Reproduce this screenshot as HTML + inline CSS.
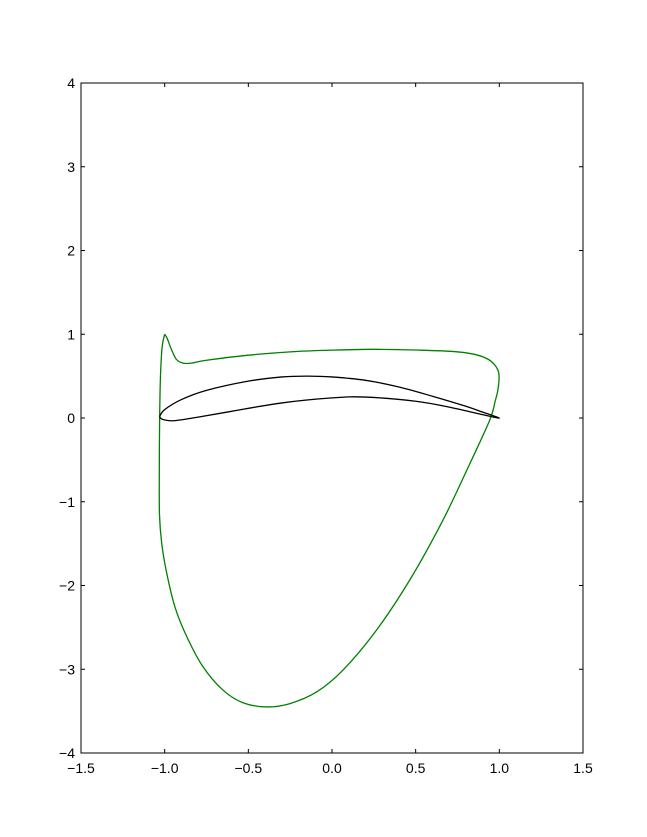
<!DOCTYPE html>
<html><head><meta charset="utf-8"><style>
html,body{margin:0;padding:0;background:#fff;}
svg{display:block;font-family:"Liberation Sans","DejaVu Sans",sans-serif;}
</style></head><body>
<svg id="chart" width="647" height="837" viewBox="0 0 647 837">
<rect x="0" y="0" width="647" height="837" fill="#fff"/>
<g id="marks"></g>
<g id="axes"></g>
</svg>
<script>
const xTicks=[-1.5,-1.0,-0.5,0.0,0.5,1.0,1.5];
const yTicks=[-4,-3,-2,-1,0,1,2,3,4];
const greenX=[-1.0,-0.985,-0.96,-0.93,-0.89,-0.84,-0.75,-0.5,-0.25,0,0.25,0.526,0.72,0.84,0.92,0.97,0.995,0.998,0.99,0.975,0.944,0.825,0.663,0.466,0.267,0.066,-0.091,-0.251,-0.39,-0.532,-0.651,-0.771,-0.868,-0.938,-0.988,-1.018,-1.031,-1.032,-1.03,-1.025,-1.015,-1.0];
const greenY=[1.0,0.95,0.82,0.70,0.655,0.655,0.69,0.75,0.79,0.81,0.82,0.81,0.795,0.765,0.715,0.64,0.55,0.45,0.32,0.2,-0.02,-0.54,-1.22,-1.93,-2.53,-3.01,-3.27,-3.41,-3.45,-3.40,-3.25,-2.97,-2.61,-2.26,-1.85,-1.49,-1.15,-0.6,0,0.5,0.85,1.0];
const blackX=[-1.03,-1.0,-0.9,-0.75,-0.5,-0.3,-0.15,0,0.2,0.4,0.6,0.8,0.9,1.0,0.9,0.7,0.5,0.2,0,-0.3,-0.6,-0.8,-0.93,-0.98,-1.02,-1.03];
const blackY=[0.02,0.1,0.22,0.33,0.44,0.49,0.5,0.49,0.45,0.37,0.26,0.14,0.07,0.0,0.04,0.13,0.2,0.25,0.24,0.18,0.08,0.01,-0.03,-0.03,-0.01,0.02];
const L=81,R=583,T=83,B=753,xmin=-1.5,xmax=1.5,ymin=-4,ymax=4;
const sx=v=>L+(v-xmin)/(xmax-xmin)*(R-L);
const sy=v=>B-(v-ymin)/(ymax-ymin)*(B-T);
const NS='http://www.w3.org/2000/svg';
function smooth(xs,ys){
  const p=xs.map((x,i)=>[sx(x),sy(ys[i])]);
  let d='M'+p[0][0].toFixed(2)+','+p[0][1].toFixed(2);
  for(let i=0;i<p.length-1;i++){
    const p0=p[Math.max(i-1,0)],p1=p[i],p2=p[i+1],p3=p[Math.min(i+2,p.length-1)];
    const c1=[p1[0]+(p2[0]-p0[0])/6,p1[1]+(p2[1]-p0[1])/6];
    const c2=[p2[0]-(p3[0]-p1[0])/6,p2[1]-(p3[1]-p1[1])/6];
    d+=' C'+c1.map(v=>v.toFixed(2))+' '+c2.map(v=>v.toFixed(2))+' '+p2.map(v=>v.toFixed(2));
  }
  return d;
}
const marks=document.getElementById('marks');
const g=document.createElementNS(NS,'path');
g.setAttribute('d',smooth(greenX,greenY));
g.setAttribute('fill','none');g.setAttribute('stroke','#008000');g.setAttribute('stroke-width','1.3');


marks.appendChild(g);
const b=document.createElementNS(NS,'path');
b.setAttribute('d',smooth(blackX,blackY));
b.setAttribute('fill','none');b.setAttribute('stroke','#000');b.setAttribute('stroke-width','1.3');


marks.appendChild(b);
const axes=document.getElementById('axes');
const frame=document.createElementNS(NS,'rect');
frame.setAttribute('x',L);frame.setAttribute('y',T);frame.setAttribute('width',R-L);frame.setAttribute('height',B-T);
frame.setAttribute('fill','none');frame.setAttribute('stroke','#000');frame.setAttribute('stroke-width','1');


axes.appendChild(frame);
function line(x1,y1,x2,y2){const l=document.createElementNS(NS,'line');l.setAttribute('x1',x1);l.setAttribute('y1',y1);l.setAttribute('x2',x2);l.setAttribute('y2',y2);l.setAttribute('stroke','#000');return l;}
xTicks.forEach(v=>{
  const x=sx(v);
  const t1=line(x,B,x,B-4);
  
  
  axes.appendChild(t1);
  const t2=line(x,T,x,T+4);
  
  
  axes.appendChild(t2);
  const tx=document.createElementNS(NS,'text');
  tx.setAttribute('x',x);tx.setAttribute('y',B+20);tx.setAttribute('text-anchor','middle');tx.setAttribute('font-size','14');
  tx.textContent=(v<0?'\u2212':'')+Math.abs(v).toFixed(1);
  
  
  axes.appendChild(tx);
});
yTicks.forEach(v=>{
  const y=sy(v);
  const t1=line(L,y,L+4,y);
  
  
  axes.appendChild(t1);
  const t2=line(R,y,R-4,y);
  
  
  axes.appendChild(t2);
  const tx=document.createElementNS(NS,'text');
  tx.setAttribute('x',L-6);tx.setAttribute('y',y+5);tx.setAttribute('text-anchor','end');tx.setAttribute('font-size','14');
  tx.textContent=(v<0?'\u2212':'')+Math.abs(v);
  
  
  axes.appendChild(tx);
});
</script>
</body></html>
